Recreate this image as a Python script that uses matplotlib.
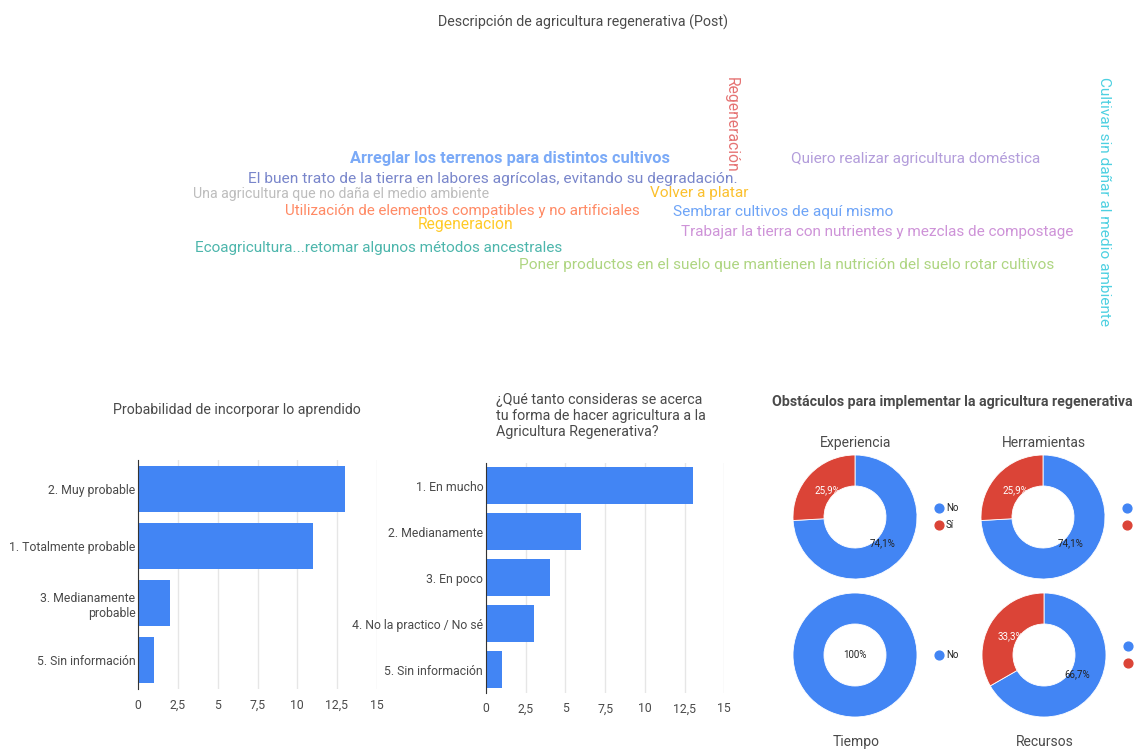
import matplotlib
matplotlib.use("Agg")
import matplotlib.pyplot as plt
from matplotlib.ticker import FuncFormatter

plt.rcParams['font.family'] = ['Roboto', 'DejaVu Sans']

W, H = 1134, 749

# --- datos ---
titulo_nube = "Descripción de agricultura regenerativa (Post)"
frases = [
    "Regeneración",
    "Cultivar sin dañar al medio ambiente",
    "Arreglar los terrenos para distintos cultivos",
    "Quiero realizar agricultura doméstica",
    "El buen trato de la tierra en labores agrícolas, evitando su degradación.",
    "Una agricultura que no daña el medio ambiente",
    "Volver a platar",
    "Utilización de elementos compatibles y no artificiales",
    "Sembrar cultivos de aquí mismo",
    "Regeneracion",
    "Trabajar la tierra con nutrientes y mezclas de compostage",
    "Ecoagricultura...retomar algunos métodos ancestrales",
    "Poner productos en el suelo que mantienen la nutrición del suelo rotar cultivos",
]

prob_cats = ["2. Muy probable", "1. Totalmente probable", "3. Medianamente\nprobable", "5. Sin información"]
prob_vals = [13, 11, 2, 1]

cerca_cats = ["1. En mucho", "2. Medianamente", "3. En poco", "4. No la practico / No sé", "5. Sin información"]
cerca_vals = [13, 6, 4, 3, 1]

obst_nombres = ["Experiencia", "Herramientas", "Tiempo", "Recursos"]
obst_etiquetas = [["No", "Sí"], ["No", "Sí"], ["No"], ["No", "Sí"]]
obst_pct = [[74.1, 25.9], [74.1, 25.9], [100.0], [66.7, 33.3]]

ticks_x = [0, 2.5, 5, 7.5, 10, 12.5, 15]

# --- estilo / layout ---
AZUL = "#4285f4"
ROJO = "#db4437"
GRIS_TXT = "#4a4a4a"

# (x_izq, x_der, y_centro) horizontales; (y_arriba, y_abajo, x_centro) verticales
nube_layout = [
    ("v", 77, 172, 731, "#e57373", "normal"),
    ("v", 77, 327, 1104, "#4dd0e1", "normal"),
    ("h", 350, 669, 159, "#7baaf7", "bold"),
    ("h", 791, 1041, 159, "#b39ddb", "normal"),
    ("h", 248, 733, 179, "#7986cb", "normal"),
    ("h", 193, 489, 194, "#bdbdbd", "normal"),
    ("h", 650, 748, 193, "#fbc02d", "normal"),
    ("h", 285, 643, 211, "#ff8a65", "normal"),
    ("h", 673, 893, 212, "#6ea4f7", "normal"),
    ("h", 418, 513, 224, "#ffca28", "normal"),
    ("h", 681, 1074, 232, "#ce93d8", "normal"),
    ("h", 195, 563, 248, "#4db6ac", "normal"),
    ("h", 519, 1053, 265, "#aed581", "normal"),
]

fig = plt.figure(figsize=(W / 100, H / 100), dpi=100)
fig.patch.set_facecolor("white")
rend = fig.canvas.get_renderer()


def ejes(l, t, r, b):
    return fig.add_axes([l / W, 1 - b / H, (r - l) / W, (b - t) / H])


def ftxt(x, y, s, **kw):
    return fig.text(x / W, 1 - y / H, s, **kw)


# nube de palabras
ftxt(583, 22, titulo_nube, ha="center", va="center", fontsize=10.3, color=GRIS_TXT)
for frase, (modo, a, b, c, col, peso) in zip(frases, nube_layout):
    if modo == "h":
        t = ftxt(a, c, frase, ha="left", va="center", fontsize=10, color=col, fontweight=peso)
        w = t.get_window_extent(rend).width
        t.set_fontsize(10 * (b - a) / w)
    else:
        t = ftxt(c, a, frase, ha="center", va="top", rotation=-90, fontsize=10, color=col, fontweight=peso)
        h = t.get_window_extent(rend).height
        t.set_fontsize(10 * (b - a) / h)

fmt = FuncFormatter(lambda v, p: (f"{v:g}").replace(".", ","))


def barras(ax, cats, vals):
    y = list(range(len(cats)))
    ax.barh(y, vals, height=0.8, color=AZUL, zorder=3)
    ax.set_yticks(y)
    ax.set_yticklabels(cats)
    ax.set_ylim(len(cats) - 0.5, -0.5)
    ax.set_xlim(0, 15)
    ax.set_xticks(ticks_x)
    ax.xaxis.set_major_formatter(fmt)
    ax.grid(axis="x", color="#e6e6e6", linewidth=1, zorder=0)
    for s in ["top", "right", "bottom"]:
        ax.spines[s].set_visible(False)
    ax.spines["left"].set_color("#333333")
    ax.spines["left"].set_zorder(4)
    ax.tick_params(length=0, labelsize=8.8, colors=GRIS_TXT)
    ax.tick_params(axis="x", pad=7)
    ax.tick_params(axis="y", pad=2)
    for lab in ax.get_yticklabels():
        lab.set_multialignment("right")


ax1 = ejes(138.3, 460, 376.7, 689)
barras(ax1, prob_cats, prob_vals)
ftxt(237, 410, "Probabilidad de incorporar lo aprendido", ha="center", va="center", fontsize=10.2, color=GRIS_TXT)

ax2 = ejes(486, 462.7, 724.3, 692.7)
barras(ax2, cerca_cats, cerca_vals)
ftxt(496, 416, "¿Qué tanto consideras se acerca\ntu forma de hacer agricultura a la\nAgricultura Regenerativa?",
     ha="left", va="center", fontsize=10.3, color=GRIS_TXT, linespacing=1.2)

# donas
ftxt(952, 402, "Obstáculos para implementar la agricultura regenerativa", ha="center", va="center",
     fontsize=10.2, fontweight="bold", color=GRIS_TXT)

centros = [(855, 517), (1043, 517), (855, 655), (1044, 655)]
pos_titulo = ["arriba", "arriba", "abajo", "abajo"]
R = 62

for nombre, etq, pct, (cx, cy), pt in zip(obst_nombres, obst_etiquetas, obst_pct, centros, pos_titulo):
    half = R * 1.05
    ax = ejes(cx - half, cy - half, cx + half, cy + half)
    cols = [AZUL, ROJO][:len(pct)]
    wedges, texts, autos = ax.pie(
        pct, colors=cols, startangle=90, counterclock=False, radius=1,
        wedgeprops=dict(width=0.5, edgecolor="white", linewidth=0.6),
        autopct=lambda p: "100%" if p > 99.9 else f"{p:.1f}%".replace(".", ","),
        pctdistance=0.62, textprops=dict(fontsize=7))
    for i, a in enumerate(autos):
        a.set_color("#222222" if i == 0 else "white")
    if len(pct) == 1:
        autos[0].set_position((0, 0))
    ax.set_xlim(-1.05, 1.05)
    ax.set_ylim(-1.05, 1.05)
    ax.set_aspect("equal")
    ax.axis("off")
    ty = cy - 74 if pt == "arriba" else cy + 87
    ftxt(cx + 1, ty, nombre, ha="center", va="center", fontsize=10, color=GRIS_TXT)

    # leyenda (en la columna derecha el texto queda fuera del lienzo, como en el original)
    for j, (lab, col) in enumerate(zip(etq, cols)):
        ly = cy - 9 + 17 * j if len(etq) > 1 else cy
        lax = ejes(cx + 79, ly - 5, cx + 89, ly + 5)
        lax.scatter([0], [0], s=40, color=col)
        lax.set_xlim(-1, 1)
        lax.set_ylim(-1, 1)
        lax.axis("off")
        if cx + 91 < W:
            ftxt(cx + 91, ly, lab, ha="left", va="center", fontsize=7, color="#222222")

fig.savefig("out.png", dpi=100)
